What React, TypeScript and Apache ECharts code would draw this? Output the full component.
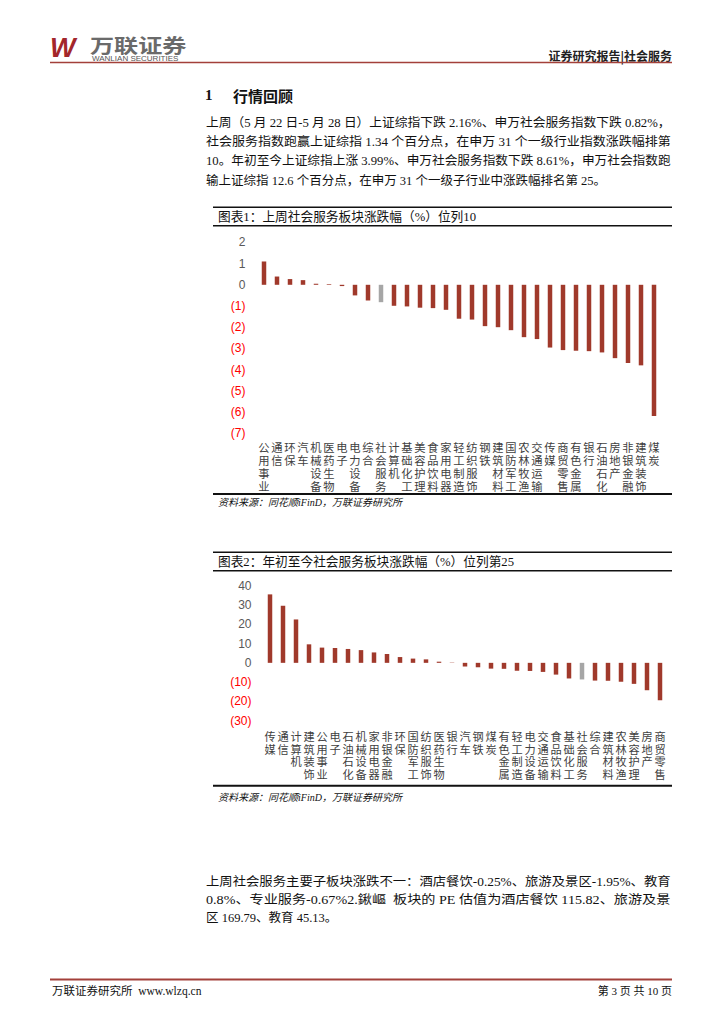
import React, { useEffect, useRef } from "react";
import * as echarts from "echarts";

const weekCategories = ["公用事业","通信","环保","汽车","机械设备","医药生物","电子","电力设备","综合","社会服务","计算机","基础化工","美容护理","食品饮料","家用电器","轻工制造","纺织服饰","钢铁","建筑材料","国防军工","农林牧渔","交通运输","传媒","商贸零售","有色金属","银行","石油石化","房地产","非银金融","建筑装饰","煤炭"];
const weekValues = [1.1,0.39,0.27,0.22,0.05,0.03,-0.06,-0.5,-0.74,-0.82,-0.99,-1.02,-1.08,-1.1,-1.18,-1.6,-1.64,-1.95,-2.0,-2.14,-2.47,-2.56,-2.96,-3.08,-3.11,-3.13,-3.19,-3.46,-3.69,-3.8,-6.19];

const ytdCategories = ["传媒","通信","计算机","建筑装饰","公用事业","电子","石油石化","机械设备","家用电器","非银金融","环保","国防军工","纺织服饰","医药生物","银行","汽车","钢铁","煤炭","有色金属","轻工制造","电力设备","交通运输","食品饮料","基础化工","社会服务","综合","建筑材料","农林牧渔","美容护理","房地产","商贸零售"];
const ytdValues = [35.5,29.6,22.5,9.6,7.9,7.7,7.2,6.6,5.4,4.6,3.0,2.2,1.8,0.6,0.15,-1.9,-2.3,-3.0,-3.1,-4.1,-4.2,-4.7,-6.1,-8.1,-8.61,-9.2,-9.3,-9.8,-10.9,-14.2,-19.4];

const highlight = "社会服务";

const introLines = [
  "上周（5 月 22 日-5 月 28 日）上证综指下跌 2.16%、申万社会服务指数下跌 0.82%，",
  "社会服务指数跑赢上证综指 1.34 个百分点，在申万 31 个一级行业指数涨跌幅排第",
  "10。年初至今上证综指上涨 3.99%、申万社会服务指数下跌 8.61%，申万社会指数跑",
  "输上证综指 12.6 个百分点，在申万 31 个一级子行业中涨跌幅排名第 25。",
];
const outroLines = [
  "上周社会服务主要子板块涨跌不一：酒店餐饮-0.25%、旅游及景区-1.95%、教育",
  "0.8%、专业服务-0.67%2.鍬嶇  板块的 PE 估值为酒店餐饮 115.82、旅游及景",
  "区 169.79、教育 45.13。",
];

const RED = "#A0392B";
const GRAY = "#A6A6A6";
const CJK = "'Noto Sans CJK SC'";
const SERIF = "'Liberation Serif','Noto Sans CJK SC'";
const SANS = "'Liberation Sans','Noto Sans CJK SC'";

let measureCtx: CanvasRenderingContext2D | null = null;
function textWidth(text: string, size: number, family: string) {
  if (!measureCtx) measureCtx = document.createElement("canvas").getContext("2d");
  if (!measureCtx) return 0;
  measureCtx.font = `${size}px ${family}`;
  return measureCtx.measureText(text).width;
}

function barData(cats: string[], vals: number[]) {
  return vals.map((v, i) => ({
    value: v,
    itemStyle: { color: cats[i] === highlight ? GRAY : RED },
  }));
}

function yAxis(gridIndex: number, min: number, max: number, interval: number) {
  return {
    type: "value",
    gridIndex,
    min,
    max,
    interval,
    axisLine: { show: false },
    axisTick: { show: false },
    splitLine: { show: false },
    axisLabel: {
      margin: 12,
      formatter: (v: number) => (v < 0 ? `{neg|(${-v})}` : `{pos|${v}}`),
      rich: {
        neg: { color: "#FF0000", fontSize: 12, fontFamily: SANS },
        pos: { color: "#595959", fontSize: 12, fontFamily: SANS },
      },
    },
  };
}

function xAxis(gridIndex: number, cats: string[], margin: number, lh: number, size: number) {
  return {
    type: "category",
    gridIndex,
    data: cats,
    axisLine: { show: false },
    axisTick: { show: false },
    axisLabel: {
      interval: 0,
      margin,
      color: "#404040",
      fontSize: size,
      lineHeight: lh,
      fontFamily: CJK,
      formatter: (v: string) => v.split("").join("\n"),
    },
  };
}

function txt(text: string, x: number, y: number, size: number, extra: any = {}) {
  return {
    type: "text",
    x,
    y,
    scaleX: extra.scaleX || 1,
    style: {
      text,
      fontSize: size,
      fontFamily: extra.fontFamily || SERIF,
      fill: extra.fill || "#111",
      fontWeight: extra.fontWeight || "normal",
      fontStyle: extra.fontStyle || "normal",
      textAlign: extra.align || "left",
      textVerticalAlign: "middle",
    },
  };
}

function para(lines: string[], x: number, y0: number, dy: number, size: number, right: number) {
  return lines.map((l, i) => {
    const last = i === lines.length - 1;
    let sx = 1;
    if (!last) {
      const w = textWidth(l, size, SERIF);
      if (w > 0) sx = (right - x) / w;
    }
    return txt(l, x, y0 + i * dy, size, { scaleX: sx });
  });
}

function hline(x1: number, x2: number, y: number, w: number, color = "#111") {
  return {
    type: "line",
    shape: { x1, y1: y, x2, y2: y },
    style: { stroke: color, lineWidth: w },
  };
}

export default function App() {
  const ref = useRef<HTMLDivElement>(null);
  useEffect(() => {
    document.body.style.margin = "0";
    const chart = echarts.init(ref.current!, null, { renderer: "svg" });
    const graphics: any[] = [
      // header
      { type: "text", x: 50, y: 48, style: { text: "W", fontSize: 27, fontFamily: "'Liberation Sans'", fontWeight: 900, fontStyle: "italic", fill: "#A3262B", textVerticalAlign: "middle" } },
      txt("万联证券", 90, 44.5, 19, { fontFamily: CJK, fill: "#6a6a6a", fontWeight: "bold", scaleX: 1.27 }),
      txt("WANLIAN SECURITIES", 92, 58, 8, { fontFamily: SANS, fill: "#555" }),
      txt("证券研究报告|社会服务", 672, 55, 12, { fontFamily: CJK, align: "right", fontWeight: "bold", fill: "#222" }),
      hline(50, 672, 62.5, 1.5, "#A3403A"),
      // section heading
      txt("1", 205, 95, 15, { fontWeight: "bold" }),
      txt("行情回顾", 233, 95, 15, { fontFamily: CJK, fontWeight: "bold" }),
      ...para(introLines, 206, 123, 19.2, 12.5, 671),
      // chart 1 frame
      hline(213, 672, 207.3, 1.5),
      txt("图表1：上周社会服务板块涨跌幅（%）位列10", 218, 216.5, 12.7),
      hline(213, 672, 225.7, 1.5),
      hline(213, 672, 494, 2),
      txt("资料来源：同花顺iFinD，万联证券研究所", 218, 502.5, 10, { fontStyle: "italic" }),
      // chart 2 frame
      hline(213, 672, 552.3, 1.5),
      txt("图表2：年初至今社会服务板块涨跌幅（%）位列第25", 218, 561.5, 12.7),
      hline(213, 672, 570.7, 1.5),
      hline(213, 672, 785.7, 2),
      txt("资料来源：同花顺iFinD，万联证券研究所", 218, 797, 10, { fontStyle: "italic" }),
      // closing paragraph
      ...para(outroLines, 206, 882, 18.2, 12.5, 671),
      // footer
      hline(50, 672, 979.5, 2, "#A3403A"),
      txt("万联证券研究所  www.wlzq.cn", 52, 990.5, 11.5),
      txt("第 3 页 共 10 页", 672, 990.5, 11, { align: "right" }),
    ];
    chart.setOption({
      animation: false,
      backgroundColor: "#fff",
      grid: [
        { left: 257.5, top: 242.4, width: 403, height: 190.8 },
        { left: 263.5, top: 585.7, width: 403, height: 135 },
      ],
      xAxis: [xAxis(0, weekCategories, 7, 13, 11.3), xAxis(1, ytdCategories, 9, 12.6, 11.2)],
      yAxis: [yAxis(0, -7, 2, 1), yAxis(1, -30, 40, 10)],
      series: [
        { type: "bar", xAxisIndex: 0, yAxisIndex: 0, barWidth: 4.5, data: barData(weekCategories, weekValues) },
        { type: "bar", xAxisIndex: 1, yAxisIndex: 1, barWidth: 4.5, data: barData(ytdCategories, ytdValues) },
      ],
      graphic: graphics,
    });
    return () => chart.dispose();
  }, []);
  return <div ref={ref} style={{ width: 724, height: 1024, position: "absolute", left: 0, top: 0 }} />;
}
